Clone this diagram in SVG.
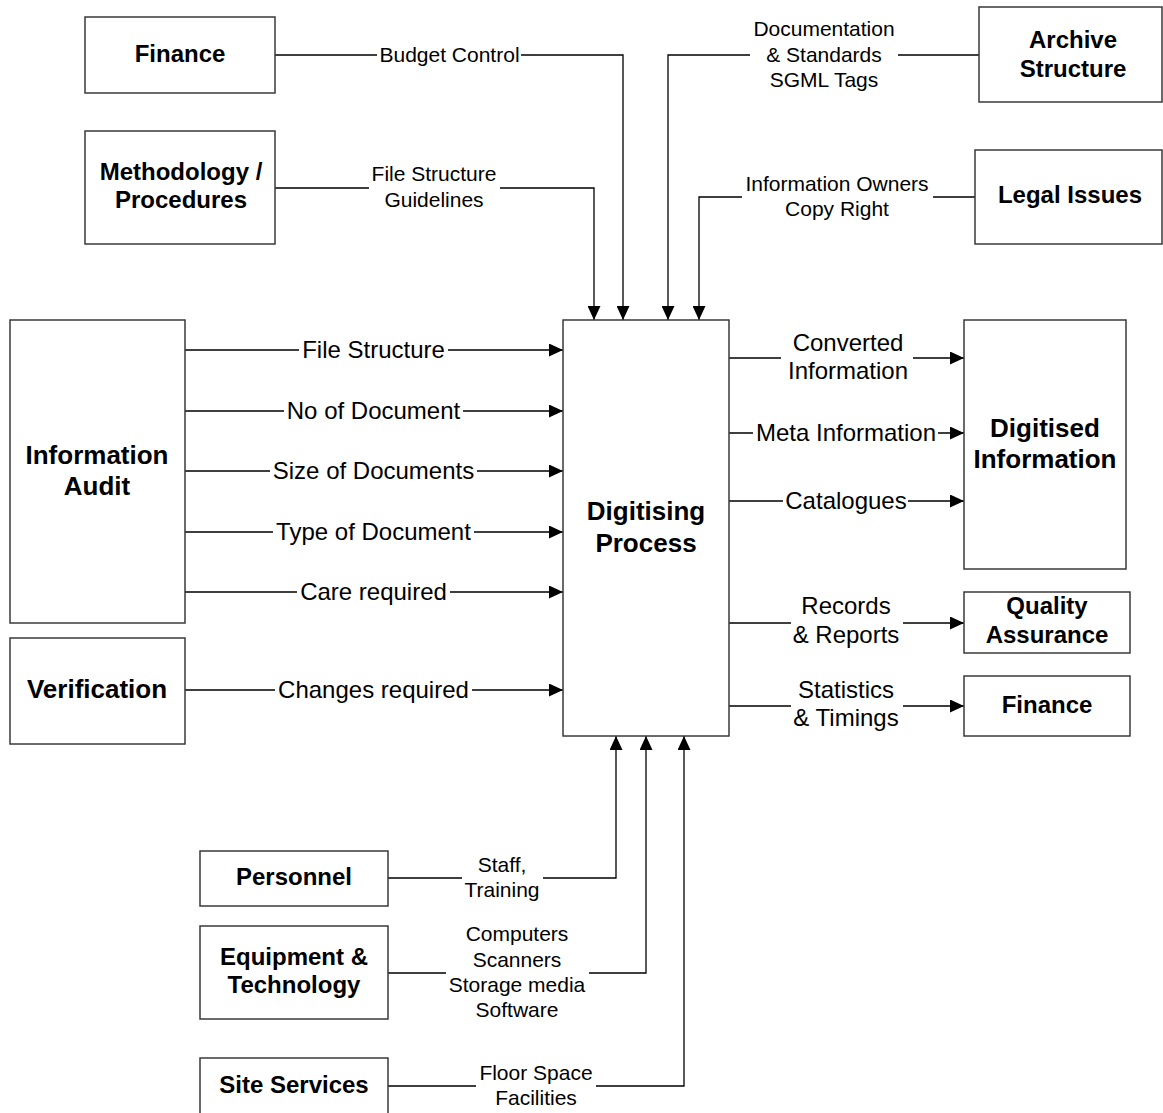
<svg xmlns="http://www.w3.org/2000/svg" width="1163" height="1113" viewBox="0 0 1163 1113">
<style>
.box{fill:#fff;stroke:#3a3a3a;stroke-width:1.5}
.b{font-family:"Liberation Sans",Arial,sans-serif;font-weight:bold;font-size:24px;text-anchor:middle;fill:#000}
.bl{font-size:26px}
.t{font-family:"Liberation Sans",Arial,sans-serif;font-size:24px;text-anchor:middle;fill:#000}
.s{font-size:21px}
.c{fill:none;stroke:#000;stroke-width:1.3}
</style>
<defs>
<marker id="ah" markerUnits="userSpaceOnUse" markerWidth="14" markerHeight="13" refX="14" refY="6.5" orient="auto" viewBox="0 0 14 13">
<path d="M0,0 L14,6.5 L0,13 z" fill="#000"/>
</marker>
</defs>
<rect width="1163" height="1113" fill="#fff"/>

<g id="connectors">
<path class="c" d="M275,55 H377 M521,55 H623 V320" marker-end="url(#ah)"/>
<path class="c" d="M275,188 H369 M500,188 H594 V320" marker-end="url(#ah)"/>
<path class="c" d="M979,55 H898 M750,55 H668 V320" marker-end="url(#ah)"/>
<path class="c" d="M975,197 H933 M742,197 H699 V320" marker-end="url(#ah)"/>

<path class="c" d="M185,350 H299 M448,350 H563" marker-end="url(#ah)"/>
<path class="c" d="M185,411 H284 M463,411 H563" marker-end="url(#ah)"/>
<path class="c" d="M185,471 H270 M477,471 H563" marker-end="url(#ah)"/>
<path class="c" d="M185,532 H273 M474,532 H563" marker-end="url(#ah)"/>
<path class="c" d="M185,592 H297 M450,592 H563" marker-end="url(#ah)"/>
<path class="c" d="M185,690 H275 M472,690 H563" marker-end="url(#ah)"/>

<path class="c" d="M729,358 H781 M913,358 H964" marker-end="url(#ah)"/>
<path class="c" d="M729,433 H753 M938,433 H964" marker-end="url(#ah)"/>
<path class="c" d="M729,501 H783 M908,501 H964" marker-end="url(#ah)"/>
<path class="c" d="M729,623 H791 M903,623 H964" marker-end="url(#ah)"/>
<path class="c" d="M729,706 H791 M903,706 H964" marker-end="url(#ah)"/>

<path class="c" d="M388,878 H462 M543,878 H616 V736" marker-end="url(#ah)"/>
<path class="c" d="M388,973 H446 M589,973 H646 V736" marker-end="url(#ah)"/>
<path class="c" d="M388,1086 H476 M596,1086 H684 V736" marker-end="url(#ah)"/>

<text class="t s" x="449.5" y="62">Budget Control</text>
<text class="t s" x="434" y="181">File Structure</text>
<text class="t s" x="434" y="207">Guidelines</text>
<text class="t s" x="824" y="36">Documentation</text>
<text class="t s" x="824" y="62">&amp; Standards</text>
<text class="t s" x="824" y="87">SGML Tags</text>
<text class="t s" x="837" y="191">Information Owners</text>
<text class="t s" x="837" y="216">Copy Right</text>

<text class="t" x="373.5" y="358">File Structure</text>
<text class="t" x="373.5" y="419">No of Document</text>
<text class="t" x="373.5" y="479">Size of Documents</text>
<text class="t" x="373.5" y="540">Type of Document</text>
<text class="t" x="373.5" y="600">Care required</text>
<text class="t" x="373.5" y="698">Changes required</text>

<text class="t" x="848" y="351">Converted</text>
<text class="t" x="848" y="379">Information</text>
<text class="t" x="846" y="441">Meta Information</text>
<text class="t" x="846" y="509">Catalogues</text>
<text class="t" x="846" y="614">Records</text>
<text class="t" x="846" y="643">&amp; Reports</text>
<text class="t" x="846" y="698">Statistics</text>
<text class="t" x="846" y="726">&amp; Timings</text>

<text class="t s" x="502" y="872">Staff,</text>
<text class="t s" x="502" y="897">Training</text>
<text class="t s" x="517" y="941">Computers</text>
<text class="t s" x="517" y="967">Scanners</text>
<text class="t s" x="517" y="992">Storage media</text>
<text class="t s" x="517" y="1017">Software</text>
<text class="t s" x="536" y="1080">Floor Space</text>
<text class="t s" x="536" y="1105">Facilities</text>
</g>

<g id="finance-top"><rect class="box" x="85" y="17" width="190" height="76"/><text class="b" x="180" y="62">Finance</text></g>
<g id="methodology"><rect class="box" x="85" y="131" width="190" height="113"/><text class="b" x="181" y="180">Methodology /</text><text class="b" x="181" y="208">Procedures</text></g>
<g id="archive"><rect class="box" x="979" y="7" width="183" height="95"/><text class="b" x="1073" y="48">Archive</text><text class="b" x="1073" y="77">Structure</text></g>
<g id="legal"><rect class="box" x="975" y="150" width="187" height="94"/><text class="b" x="1070" y="203">Legal Issues</text></g>
<g id="info-audit"><rect class="box" x="10" y="320" width="175" height="303"/><text class="b bl" x="97" y="464">Information</text><text class="b bl" x="97" y="495">Audit</text></g>
<g id="verification"><rect class="box" x="10" y="638" width="175" height="106"/><text class="b bl" x="97" y="698">Verification</text></g>
<g id="digitising"><rect class="box" x="563" y="320" width="166" height="416"/><text class="b bl" x="646" y="520">Digitising</text><text class="b bl" x="646" y="552">Process</text></g>
<g id="digitised"><rect class="box" x="964" y="320" width="162" height="249"/><text class="b bl" x="1045" y="437">Digitised</text><text class="b bl" x="1045" y="468">Information</text></g>
<g id="qa"><rect class="box" x="964" y="592" width="166" height="61"/><text class="b" x="1047" y="614">Quality</text><text class="b" x="1047" y="643">Assurance</text></g>
<g id="finance-right"><rect class="box" x="964" y="676" width="166" height="60"/><text class="b" x="1047" y="713">Finance</text></g>
<g id="personnel"><rect class="box" x="200" y="851" width="188" height="55"/><text class="b" x="294" y="885">Personnel</text></g>
<g id="equipment"><rect class="box" x="200" y="926" width="188" height="93"/><text class="b" x="294" y="965">Equipment &amp;</text><text class="b" x="294" y="993">Technology</text></g>
<g id="site"><rect class="box" x="200" y="1058" width="188" height="70"/><text class="b" x="294" y="1093">Site Services</text></g>
</svg>
